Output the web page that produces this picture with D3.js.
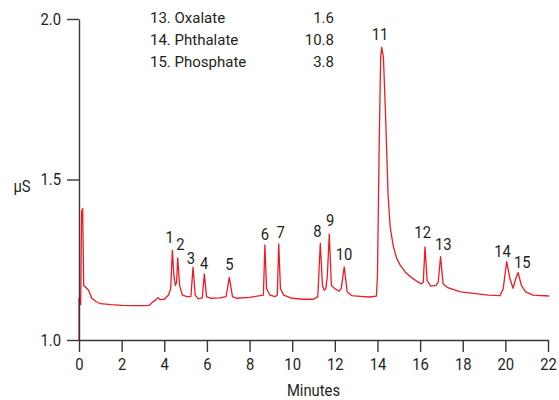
<!DOCTYPE html>
<html>
<head>
<meta charset="utf-8">
<script src="https://cdn.jsdelivr.net/npm/d3@7"></script>
<style>
  body { margin: 0; background: #fff; }
  svg text { font-family: Roboto, "Noto Sans", sans-serif; fill: #231f20; }
</style>
</head>
<body>
<div id="chart"></div>
<script>
/* DATA */

// conductivity trace: time in minutes, signal in µS
const times = [0.0, 0.0, 0.08, 0.12, 0.17, 0.22, 0.3, 0.45, 0.6, 0.8, 1.0, 1.5, 2.0, 2.5, 3.0, 3.3, 3.45, 3.6, 3.7, 3.8, 4.0, 4.2, 4.3,
  4.38, 4.45, 4.52, 4.58, 4.63, 4.72, 4.85, 5.1, 5.25, 5.35, 5.45, 5.6, 5.78, 5.88, 5.98, 6.2, 6.6, 6.9, 7.05, 7.2, 7.4,
  8.0, 8.5, 8.65, 8.72, 8.8, 8.95, 9.2, 9.3, 9.37, 9.45, 9.6, 10.0, 10.5, 11.0, 11.2, 11.32, 11.42, 11.5, 11.58, 11.65,
  11.74, 11.84, 12.0, 12.2, 12.3, 12.44, 12.58, 12.8, 13.2, 13.6, 13.95, 14.0, 14.08, 14.15, 14.2, 14.28, 14.38, 14.5,
  14.6, 14.75, 14.9, 15.06, 15.3, 15.55, 15.8, 16.05, 16.15, 16.23, 16.33, 16.5, 16.75, 16.85, 16.96, 17.08, 17.3,
  17.9, 18.5, 19.2, 19.75, 19.9, 20.06, 20.22, 20.36, 20.48, 20.6, 20.75, 20.95, 21.3, 22.05];
const signal = [1.0, 1.13, 1.11, 1.40, 1.41, 1.17, 1.165, 1.155, 1.13, 1.12, 1.113, 1.11, 1.108, 1.107, 1.107, 1.108, 1.118, 1.125, 1.132, 1.126, 1.127, 1.14, 1.16,
  1.28, 1.2, 1.17, 1.18, 1.256, 1.17, 1.14, 1.134, 1.136, 1.227, 1.14, 1.128, 1.131, 1.206, 1.135, 1.13, 1.131, 1.135, 1.195, 1.135, 1.13,
  1.133, 1.138, 1.14, 1.296, 1.16, 1.14, 1.135, 1.14, 1.299, 1.16, 1.14, 1.13, 1.127, 1.127, 1.135, 1.301, 1.17, 1.155, 1.16, 1.2,
  1.33, 1.17, 1.16, 1.152, 1.16, 1.228, 1.15, 1.138, 1.136, 1.134, 1.137, 1.2, 1.6, 1.88, 1.912, 1.88, 1.7, 1.45,
  1.35, 1.29, 1.255, 1.234, 1.212, 1.197, 1.185, 1.175, 1.18, 1.29, 1.185, 1.168, 1.17, 1.18, 1.26, 1.175, 1.163,
  1.15, 1.145, 1.14, 1.138, 1.16, 1.244, 1.19, 1.161, 1.19, 1.21, 1.17, 1.15, 1.14, 1.137];

// peak numbers and where their labels sit (time, signal)
const peakNames = ["1", "2", "3", "4", "5", "6", "7", "8", "9", "10", "11", "12", "13", "14", "15"];
const peakTimes = [4.25, 4.76, 5.25, 5.87, 7.05, 8.72, 9.46, 11.18, 11.78, 12.43, 14.12, 16.12, 17.09, 19.87, 20.79];
const peakLabelY = [1.302, 1.28, 1.237, 1.22, 1.217, 1.311, 1.317, 1.32, 1.355, 1.249, 1.935, 1.317, 1.28, 1.26, 1.223];

// legend table (peaks 13-15)
const legendNames = ["13. Oxalate", "14. Phthalate", "15. Phosphate"];
const legendValues = ["1.6", "10.8", "3.8"];

const xTicks = [0, 2, 4, 6, 8, 10, 12, 14, 16, 18, 20, 22];
const yTicks = [1.0, 1.5, 2.0];

/* LAYOUT */
const width = 559;
const height = 400;
const margin = { top: 19, left: 79, right: 11, bottom: 60 };
const squeeze = 0.87;   // reference font is a condensed face

const svg = d3.select("#chart")
  .append("svg")
  .attr("width", width)
  .attr("height", height);

// narrow a text the way a condensed font would
function condense(sel, k) {
  sel.each(function () {
    const w = this.getComputedTextLength();
    d3.select(this)
      .attr("textLength", w * k)
      .attr("lengthAdjust", "spacingAndGlyphs");
  });
}

// SCALES
const xScale = d3.scaleLinear()
  .domain([0, 22])
  .range([margin.left, width - margin.right]);

const yScale = d3.scaleLinear()
  .domain([1, 2])
  .range([height - margin.bottom, margin.top]);

// AXES
const xAxis = d3.axisBottom(xScale)
  .tickValues(xTicks)
  .tickFormat(d3.format("d"))
  .tickSize(12)
  .tickPadding(6)
  .tickSizeOuter(0);

const yAxis = d3.axisLeft(yScale)
  .tickValues(yTicks)
  .tickFormat(d3.format(".1f"))
  .tickSize(12)
  .tickPadding(6)
  .tickSizeOuter(0);

const trace = times.map((t, i) => ({ t, v: signal[i] }));

const line = d3.line()
  .x(d => xScale(d.t))
  .y(d => yScale(d.v));

// trace drawn under the axes
svg.append("path")
  .datum(trace)
  .attr("fill", "none")
  .attr("stroke", "#ec1c24")
  .attr("stroke-width", 1.3)
  .attr("stroke-linejoin", "round")
  .attr("d", line);

const gx = svg.append("g")
  .attr("transform", `translate(0, ${yScale(1)})`)
  .call(xAxis);

const gy = svg.append("g")
  .attr("transform", `translate(${xScale(0)}, 0)`)
  .call(yAxis);

[gx, gy].forEach(g => {
  g.select(".domain").attr("stroke", "#3a3536").attr("stroke-width", 1.4);
  g.selectAll(".tick line").attr("stroke", "#3a3536").attr("stroke-width", 1.4);
  g.selectAll(".tick text")
    .style("font-family", "Roboto, \"Noto Sans\", sans-serif")
    .style("font-size", "17px")
    .attr("fill", "#231f20")
    .call(condense, squeeze);
});

// axis titles
svg.append("text")
  .attr("x", (xScale(0) + xScale(22)) / 2)
  .attr("y", 396)
  .attr("text-anchor", "middle")
  .style("font-size", "17px")
  .text("Minutes")
  .call(condense, squeeze);

svg.append("text")
  .attr("x", 22)
  .attr("y", 192)
  .attr("text-anchor", "middle")
  .style("font-size", "17px")
  .text("µS")
  .call(condense, squeeze);

// peak labels
svg.selectAll(".peak-label")
  .data(peakNames)
  .join("text")
  .attr("class", "peak-label")
  .attr("x", (_, i) => xScale(peakTimes[i]))
  .attr("y", (_, i) => yScale(peakLabelY[i]))
  .attr("text-anchor", "middle")
  .style("font-size", "17px")
  .text(d => d)
  .call(condense, squeeze);

// legend table
svg.selectAll(".legend-name")
  .data(legendNames)
  .join("text")
  .attr("class", "legend-name")
  .attr("x", 150)
  .attr("y", (_, i) => 23 + i * 22)
  .style("font-size", "15px")
  .text(d => d);

svg.selectAll(".legend-value")
  .data(legendValues)
  .join("text")
  .attr("class", "legend-value")
  .attr("x", 334)
  .attr("y", (_, i) => 23 + i * 22)
  .attr("text-anchor", "end")
  .style("font-size", "15px")
  .text(d => d);
</script>
</body>
</html>
